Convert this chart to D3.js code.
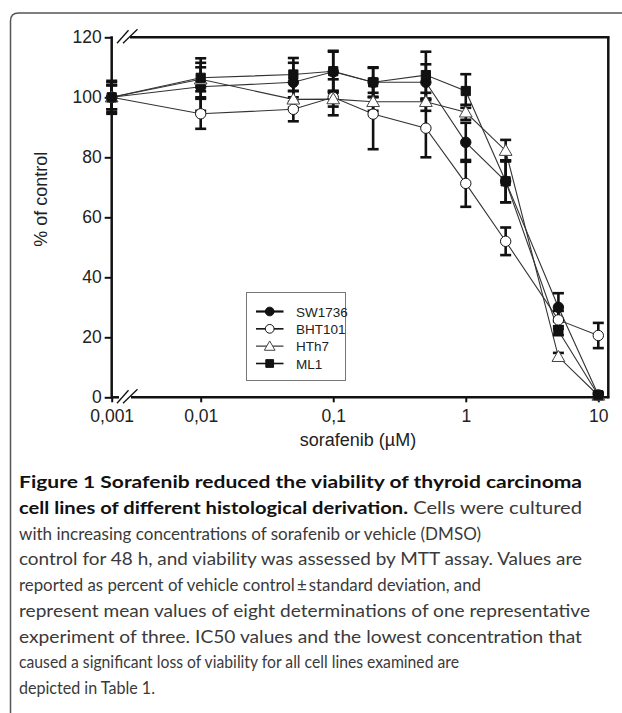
<!DOCTYPE html>
<html>
<head>
<meta charset="utf-8">
<script src="https://cdn.jsdelivr.net/npm/d3@7"></script>
<style>
  html, body { margin: 0; padding: 0; background: #fff; }
  svg { display: block; }
</style>
</head>
<body>
<div id="chart"></div>
<script>
// sorafenib concentrations (µM)
const doses = [0.001, 0.01, 0.05, 0.1, 0.2, 0.5, 1, 2, 5, 10];
const xTicks = [0.001, 0.01, 0.1, 1, 10];
const yTicks = [0, 20, 40, 60, 80, 100, 120];

// % of control
const sw1736 = [100, 103.5, 105, 108.5, 105, 105, 85, 72, 30, 0.8];
const sw1736Sd = [5, 8, 6.5, 7, 5, 6, 6.5, 7, 4.7, 0.8];
const bht101 = [100, 94.5, 96, 100, 94.4, 89.7, 71.3, 52, 25.8, 20.6];
const bht101Sd = [4, 5, 4, 6, 11.7, 9.7, 7.8, 4.6, 3, 4.2];
const hth7 = [100, 106, 99.3, 99.4, 98.5, 98.5, 95, 82.2, 13.5, 0.6];
const hth7Sd = [4, 4, 2.8, 2.5, 3, 3, 2.5, 3.6, 1.3, 0.6];
const ml1 = [100, 106.5, 107.6, 108.7, 105, 107.4, 102.1, 72, 22.2, 0.7];
const ml1Sd = [5.5, 6.5, 5.5, 6.5, 4.8, 7.8, 5.6, 7, 1.5, 0.7];

const seriesNames = ['SW1736', 'BHT101', 'HTh7', 'ML1'];

// [bold part, regular part] for each caption line
const captionLines = [
  ['Figure 1 Sorafenib reduced the viability of thyroid carcinoma', ''],
  ['cell lines of different histological derivation.', ' Cells were cultured'],
  ['', 'with increasing concentrations of sorafenib or vehicle (DMSO)'],
  ['', 'control for 48 h, and viability was assessed by MTT assay. Values are'],
  ['', 'reported as percent of vehicle control\u2009\u00b1\u2009standard deviation, and'],
  ['', 'represent mean values of eight determinations of one representative'],
  ['', 'experiment of three. IC50 values and the lowest concentration that'],
  ['', 'caused a significant loss of viability for all cell lines examined are'],
  ['', 'depicted in Table 1.']
];
const captionWidths = [563, 563, 462, 563, 462, 571, 563, 440, 136];

const W = 622, H = 713;
const svg = d3.select('#chart').append('svg')
  .attr('width', W)
  .attr('height', H);

// outer rounded frame, cut at the right and bottom edges
svg.append('path')
  .attr('d', 'M10.5,' + (H + 5) + ' L10.5,21 Q10.5,13 18.5,13 L' + (W + 5) + ',13')
  .attr('fill', 'none')
  .attr('stroke', '#555')
  .attr('stroke-width', 1.5);

const plotL = 111.7, plotR = 608.3, plotT = 37.3, plotB = 397.3;

// log scale with a break between 0.001 and 0.01
const x = d3.scaleLog()
  .domain([0.001, 0.01, 10])
  .range([plotL, 200.7, 598.3]);
const y = d3.scaleLinear()
  .domain([0, 120])
  .range([plotB, plotT]);

const fontAxis = 'Liberation Sans, Arial, Helvetica, sans-serif';

// y axis
const yAxis = svg.append('g')
  .attr('transform', `translate(${plotL},0)`)
  .call(d3.axisLeft(y).tickValues(yTicks).tickSize(7).tickPadding(3));
yAxis.select('.domain').remove();
yAxis.selectAll('.tick line').attr('stroke', '#111').attr('stroke-width', 2);
yAxis.selectAll('.tick text')
  .attr('font-family', fontAxis)
  .attr('font-size', 17.5)
  .attr('fill', '#222');

// x axis
const fmtX = d => String(d).replace('.', ',');
const xAxis = svg.append('g')
  .attr('transform', `translate(0,${plotB})`)
  .call(d3.axisBottom(x).tickValues(xTicks).tickFormat(fmtX).tickSize(5).tickPadding(7));
xAxis.select('.domain').remove();
xAxis.selectAll('.tick line').attr('stroke', '#111').attr('stroke-width', 2);
xAxis.selectAll('.tick text')
  .attr('font-family', fontAxis)
  .attr('font-size', 17.5)
  .attr('fill', '#222');

// frame lines with breaks
const frame = svg.append('g')
  .attr('stroke', '#111')
  .attr('stroke-width', 2.5)
  .attr('fill', 'none');
frame.append('line').attr('x1', plotL).attr('x2', plotL).attr('y1', plotT - 1).attr('y2', plotB + 1);
frame.append('line').attr('x1', plotR).attr('x2', plotR).attr('y1', plotT - 1).attr('y2', plotB + 1);
frame.append('line').attr('x1', plotL).attr('x2', 119).attr('y1', plotB).attr('y2', plotB);
frame.append('line').attr('x1', 131).attr('x2', plotR + 1).attr('y1', plotB).attr('y2', plotB);
frame.append('line').attr('x1', 130).attr('x2', plotR + 1).attr('y1', plotT).attr('y2', plotT);

const breaks = svg.append('g')
  .attr('stroke', '#111')
  .attr('stroke-width', 1.3);
[plotB, plotT].forEach(yy => {
  breaks.append('line').attr('x1', 117).attr('y1', yy + 6).attr('x2', 128.5).attr('y2', yy - 7);
  breaks.append('line').attr('x1', 123).attr('y1', yy + 6).attr('x2', 137.5).attr('y2', yy - 8);
});

// axis titles
svg.append('text')
  .attr('transform', `translate(47,${(plotT + plotB) / 2 - 18}) rotate(-90)`)
  .attr('text-anchor', 'middle')
  .attr('font-family', fontAxis)
  .attr('font-size', 18)
  .attr('fill', '#222')
  .text('% of control');

svg.append('text')
  .attr('x', 358)
  .attr('y', 446)
  .attr('text-anchor', 'middle')
  .attr('font-family', fontAxis)
  .attr('font-size', 18)
  .attr('fill', '#222')
  .text('sorafenib (\u00b5M)');

// series
const series = [
  { name: seriesNames[0], values: sw1736, sd: sw1736Sd, shape: 'circle', fill: '#111' },
  { name: seriesNames[1], values: bht101, sd: bht101Sd, shape: 'circle', fill: '#fff' },
  { name: seriesNames[2], values: hth7, sd: hth7Sd, shape: 'triangle', fill: '#fff' },
  { name: seriesNames[3], values: ml1, sd: ml1Sd, shape: 'square', fill: '#111' }
];

const line = d3.line()
  .x(d => x(d.dose))
  .y(d => y(d.value));

const points = s => doses.map((dose, i) => ({ dose, value: s.values[i], sd: s.sd[i] }));

svg.append('g')
  .selectAll('path')
  .data(series)
  .join('path')
  .attr('d', s => line(points(s)))
  .attr('fill', 'none')
  .attr('stroke', '#333')
  .attr('stroke-width', 1.1);

// error bars
const errG = svg.append('g')
  .attr('stroke', '#111')
  .attr('stroke-width', 2.6);
series.forEach(s => {
  points(s).forEach(p => {
    const cx = x(p.dose);
    const y0 = y(p.value - p.sd), y1 = y(p.value + p.sd);
    errG.append('line').attr('x1', cx).attr('x2', cx).attr('y1', y0).attr('y2', y1);
    errG.append('line').attr('x1', cx - 5.5).attr('x2', cx + 5.5).attr('y1', y0).attr('y2', y0);
    errG.append('line').attr('x1', cx - 5.5).attr('x2', cx + 5.5).attr('y1', y1).attr('y2', y1);
  });
});

const symbolPath = (shape, size) => {
  const type = shape === 'circle' ? d3.symbolCircle : shape === 'square' ? d3.symbolSquare : d3.symbolTriangle;
  return d3.symbol().type(type).size(size)();
};

// markers
series.forEach(s => {
  svg.append('g')
    .selectAll('path')
    .data(points(s))
    .join('path')
    .attr('transform', d => `translate(${x(d.dose)},${y(d.value) + (s.shape === 'triangle' ? 1 : 0)})`)
    .attr('d', symbolPath(s.shape, s.shape === 'triangle' ? 70 : 85))
    .attr('fill', s.fill)
    .attr('stroke', s.shape === 'triangle' ? '#444' : '#111')
    .attr('stroke-width', 1);
});

// legend
const legend = svg.append('g');
legend.append('rect')
  .attr('x', 246.5)
  .attr('y', 292.5)
  .attr('width', 99)
  .attr('height', 88)
  .attr('fill', '#fff')
  .attr('stroke', '#777')
  .attr('stroke-width', 1);

const legendY = d3.scalePoint().domain(seriesNames).range([311.5, 363.5]);
series.forEach((s, i) => {
  const ly = legendY(s.name);
  legend.append('line')
    .attr('x1', 256).attr('x2', 283.5)
    .attr('y1', ly).attr('y2', ly)
    .attr('stroke', s.shape === 'triangle' ? '#666' : '#111')
    .attr('stroke-width', i === 0 ? 2.2 : 1.6);
  legend.append('path')
    .attr('transform', `translate(269.7,${ly + (s.shape === 'triangle' ? 1 : 0)})`)
    .attr('d', symbolPath(s.shape, s.shape === 'triangle' ? 50 : 60))
    .attr('fill', s.fill)
    .attr('stroke', s.shape === 'triangle' ? '#444' : '#111')
    .attr('stroke-width', 1);
  legend.append('text')
    .attr('x', 296)
    .attr('y', ly + 5)
    .attr('font-family', fontAxis)
    .attr('font-size', 13.5)
    .attr('fill', '#222')
    .text(s.name);
});

// caption: glyphs stretched slightly to the widths measured in the figure
const cap = svg.append('g')
  .attr('font-family', 'Lato, Open Sans, sans-serif')
  .attr('font-size', 17.6);
captionLines.forEach((ln, i) => {
  const t = cap.append('text')
    .attr('x', 19)
    .attr('y', 488 + i * 25.75)
    .attr('textLength', captionWidths[i])
    .attr('lengthAdjust', 'spacingAndGlyphs');
  if (ln[0]) t.append('tspan').attr('font-weight', 700).attr('fill', '#111').text(ln[0]);
  if (ln[1]) t.append('tspan').attr('fill', '#3a3a3a').text(ln[1]);
});
</script>
</body>
</html>
